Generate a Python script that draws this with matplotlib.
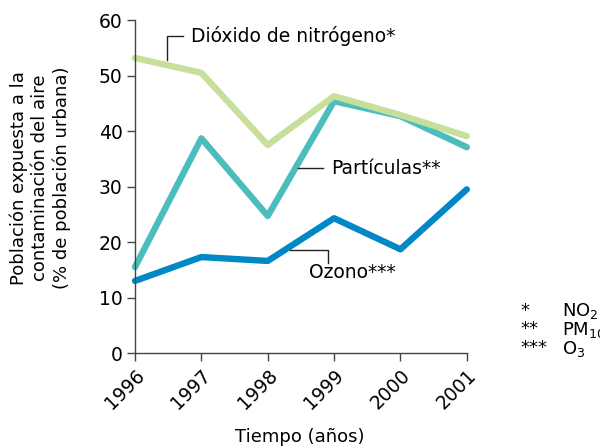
import matplotlib.pyplot as plt

# Data
years = [1996, 1997, 1998, 1999, 2000, 2001]
no2 = [53.2, 50.5, 37.5, 46.3, 42.9, 39.1]
pm10 = [15.5, 38.7, 24.7, 45.4, 42.7, 37.1]
o3 = [13.0, 17.3, 16.6, 24.3, 18.7, 29.5]

c_no2 = '#c6e09c'
c_pm10 = '#4cbdbd'
c_o3 = '#0088c6'

plt.rcParams['font.family'] = ['DejaVu Sans']

fig = plt.figure(figsize=(6, 4.48), dpi=100)
ax = fig.add_axes([0.225, 0.212, 0.553, 0.743])

# green is drawn over the teal line
ax.plot(years, pm10, color=c_pm10, lw=4.6, solid_capstyle='round', clip_on=False)
ax.plot(years, no2, color=c_no2, lw=4.6, solid_capstyle='round', clip_on=False)
ax.plot(years, o3, color=c_o3, lw=4.6, solid_capstyle='round', clip_on=False)

ax.set_xlim(1996, 2001)
ax.set_ylim(0, 60)
ax.set_xticks(years)
ax.set_xticklabels([str(y) for y in years], rotation=45, ha='right', rotation_mode='anchor')
ax.set_yticks([0, 10, 20, 30, 40, 50, 60])
ax.spines['top'].set_visible(False)
ax.spines['right'].set_visible(False)
for s in ['left', 'bottom']:
    ax.spines[s].set_color('#444444')
    ax.spines[s].set_linewidth(1)
ax.tick_params(direction='out', length=6, width=1, color='#444444', labelsize=13.5, pad=3)

fig.text(0.5, 0.024, 'Tiempo (años)', fontsize=13, ha='center', va='center')
fig.text(0.067, 0.603, 'Población expuesta a la\ncontaminación del aire\n(% de población urbana)',
         fontsize=13, rotation=90, ha='center', va='center', multialignment='center', linespacing=1.22)

# Leader lines and labels
lk = dict(color='#222222', lw=1, clip_on=False)
ax.plot([1996.48, 1996.48, 1996.72], [52.8, 57.1, 57.1], **lk)
ax.text(1996.84, 57.1, 'Dióxido de nitrógeno*', fontsize=13.5, va='center')

ax.plot([1998.45, 1998.83], [33.3, 33.3], **lk)
ax.text(1998.95, 33.3, 'Partículas**', fontsize=13.5, va='center')

ax.plot([1998.33, 1998.91, 1998.91], [18.6, 18.6, 16.2], **lk)
ax.text(1999.27, 14.6, 'Ozono***', fontsize=13.5, va='center', ha='center')

# Footnote
fig.text(0.868, 0.306, '*', fontsize=13, va='center')
fig.text(0.868, 0.266, '**', fontsize=13, va='center')
fig.text(0.868, 0.224, '***', fontsize=13, va='center')
fig.text(0.937, 0.306, 'NO$_2$', fontsize=13, va='center')
fig.text(0.937, 0.264, 'PM$_{10}$', fontsize=13, va='center')
fig.text(0.937, 0.222, 'O$_3$', fontsize=13, va='center')

fig.savefig('out.png', dpi=100)
